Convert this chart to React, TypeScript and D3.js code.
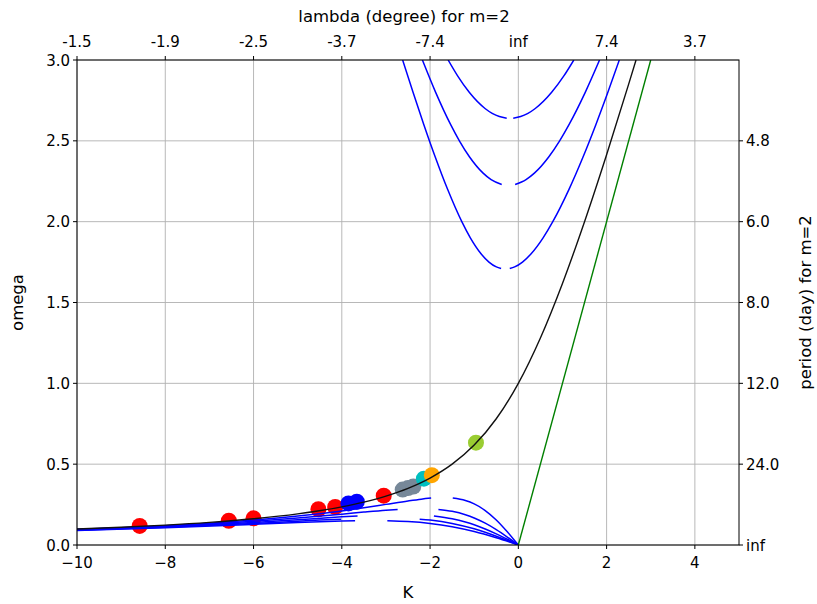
import React from "react";
import * as d3 from "d3";

// ---- data (K, omega) ----
const xTicks = [-10, -8, -6, -4, -2, 0, 2, 4];
const topTickLabels = ["-1.5", "-1.9", "-2.5", "-3.7", "-7.4", "inf", "7.4", "3.7"];
const yTicks = [0, 0.5, 1.0, 1.5, 2.0, 2.5, 3.0];
const rightTicks = [0, 0.5, 1.0, 1.5, 2.0, 2.5];
const rightTickLabels = ["inf", "24.0", "12.0", "8.0", "6.0", "4.8"];

const blackCurve: [number, number][] = [
  [-10, 0.099], [-9, 0.1099], [-8, 0.1231], [-7, 0.1401], [-6, 0.1623], [-5, 0.1926],
  [-4, 0.2361], [-3.5, 0.2656], [-3, 0.3028], [-2.5, 0.3508], [-2, 0.4142], [-1.5, 0.5],
  [-1, 0.618], [-0.5, 0.7808], [0, 1.0], [0.5, 1.2808], [1, 1.618], [1.5, 2.0],
  [2, 2.4142], [2.5, 2.8508], [2.667, 3.0],
];

const greenLine: [number, number][] = [[0, 0], [3, 3]];

const gravity1Left: [number, number][] = [
  [-2.6218, 3.0], [-2.3858, 2.8], [-2.1409, 2.6], [-1.8827, 2.4], [-1.6027, 2.2], [-1.2808, 2.0],
  [-1.0873, 1.9], [-0.8409, 1.8], [-0.6654, 1.75], [-0.4979, 1.72], [-0.3904, 1.71],
];
const gravity1Right: [number, number][] = [
  [-0.1944, 1.71], [-0.0836, 1.72], [0.094, 1.75], [0.2854, 1.8], [0.561, 1.9], [0.7808, 2.0],
  [1.1481, 2.2], [1.466, 2.4], [1.7563, 2.6], [2.0287, 2.8], [2.2885, 3.0],
];
const gravity2Left: [number, number][] = [
  [-2.1736, 3.0], [-1.8733, 2.8], [-1.5328, 2.6], [-1.3358, 2.5], [-1.1047, 2.4], [-0.7981, 2.3],
  [-0.6169, 2.26], [-0.3765, 2.23],
];
const gravity2Right: [number, number][] = [
  [-0.072, 2.23], [0.1744, 2.26], [0.3634, 2.3], [0.688, 2.4], [0.9358, 2.5], [1.1482, 2.6],
  [1.5161, 2.8], [1.8403, 3.0],
];
const gravity3Left: [number, number][] = [
  [-1.5907, 3.0], [-1.3723, 2.9], [-1.1123, 2.8], [-0.7547, 2.7], [-0.5922, 2.67], [-0.4297, 2.65],
  [-0.2634, 2.64],
];
const gravity3Right: [number, number][] = [
  [-0.1154, 2.64], [0.0524, 2.65], [0.2177, 2.67], [0.3843, 2.7], [0.7552, 2.8], [1.0275, 2.9],
  [1.2574, 3.0],
];

const rossby1Left: [number, number][] = [
  [-10, 0.0971], [-9, 0.1071], [-8, 0.1194], [-7, 0.1346], [-6, 0.1539], [-5, 0.1788],
  [-4, 0.211], [-3.5, 0.2303], [-3, 0.2513], [-2.5, 0.2724], [-2.2, 0.2835], [-1.9755, 0.29],
];
const rossby1Right: [number, number][] = [
  [-1.4859, 0.29], [-1.2, 0.2748], [-1, 0.254], [-0.75, 0.2132], [-0.5, 0.155], [-0.25, 0.0818], [0, 0],
];
const rossby2Left: [number, number][] = [
  [-10, 0.0952], [-8, 0.1159], [-6, 0.1464], [-5, 0.1668], [-4, 0.1908], [-3.5, 0.2034],
  [-3, 0.215], [-2.7348, 0.22],
];
const rossby2Right: [number, number][] = [
  [-1.8107, 0.22], [-1.5, 0.2081], [-1.2, 0.1873], [-1, 0.1674], [-0.75, 0.1351], [-0.5, 0.0954],
  [-0.25, 0.0494], [0, 0],
];
const rossby3Left: [number, number][] = [
  [-10, 0.0935], [-8, 0.1127], [-6, 0.1396], [-5, 0.1564], [-4, 0.1741], [-3.6428, 0.18],
];
const rossby3Right: [number, number][] = [
  [-1.9128, 0.18], [-1.5, 0.1625], [-1.2, 0.1424], [-1, 0.1252], [-0.75, 0.0992], [-0.5, 0.069],
  [-0.25, 0.0354], [0, 0],
];
const rossby4Left: [number, number][] = [
  [-10, 0.0917], [-8, 0.1096], [-6, 0.1334], [-5, 0.1472], [-4.5, 0.154], [-4.0144, 0.16],
];
const rossby4Right: [number, number][] = [
  [-2.2356, 0.16], [-2, 0.1541], [-1.5, 0.1335], [-1, 0.1001], [-0.5, 0.0541], [-0.25, 0.0276], [0, 0],
];
const rossby5Left: [number, number][] = [
  [-10, 0.0901], [-8, 0.1067], [-6, 0.1277], [-5, 0.139], [-4.5, 0.1441], [-4, 0.1483], [-3.699, 0.15],
];
const rossby5Right: [number, number][] = [
  [-2.968, 0.15], [-2.5, 0.1451], [-2, 0.1335], [-1.5, 0.1133], [-1, 0.0834], [-0.5, 0.0444], [0, 0],
];

const blueCurves = [
  gravity1Left, gravity1Right, gravity2Left, gravity2Right, gravity3Left, gravity3Right,
  rossby1Left, rossby1Right, rossby2Left, rossby2Right, rossby3Left, rossby3Right,
  rossby4Left, rossby4Right, rossby5Left, rossby5Right,
];

const dotK = [-8.58, -6.56, -6.0, -4.53, -4.15, -3.05, -3.85, -3.66, -2.62, -2.5, -2.38, -2.14, -1.96, -0.96];
const dotOmega = [0.118, 0.15, 0.165, 0.221, 0.235, 0.305, 0.257, 0.268, 0.343, 0.352, 0.362, 0.41, 0.432, 0.633];
const dotColor = ["red", "red", "red", "red", "red", "red", "blue", "blue",
  "#778899", "#778899", "#778899", "#00bfbf", "orange", "yellowgreen"];

// ---- layout ----
const W = 817, H = 604;
const L = 77, R = 739, T = 60, B = 545;
const FONT = "DejaVu Sans, sans-serif";
const FS = 15;
const LFS = 16.5;

export default function App() {
  const x = d3.scaleLinear().domain([-10, 5]).range([L, R]);
  const y = d3.scaleLinear().domain([0, 3]).range([B, T]);
  const line = d3.line<[number, number]>().x(d => x(d[0])).y(d => y(d[1])).curve(d3.curveMonotoneX);
  const straight = d3.line<[number, number]>().x(d => x(d[0])).y(d => y(d[1]));
  const fmtMinus = (v: number) => (v < 0 ? "\u2212" + Math.abs(v) : String(v));

  return (
    <svg width={W} height={H} style={{ position: "absolute", left: 0, top: 0, background: "white" }}
      fontFamily={FONT} fontSize={FS}>
      <defs>
        <clipPath id="plotclip"><rect x={L} y={T} width={R - L} height={B - T} /></clipPath>
      </defs>
      <rect x={0} y={0} width={W} height={H} fill="white" />
      {/* grid */}
      <g stroke="#b0b0b0" strokeWidth={0.9}>
        {xTicks.map(t => <line key={"gx" + t} x1={x(t)} x2={x(t)} y1={T} y2={B} />)}
        {yTicks.map(t => <line key={"gy" + t} x1={L} x2={R} y1={y(t)} y2={y(t)} />)}
      </g>
      <g clipPath="url(#plotclip)">
        {dotK.map((k, i) => (
          <circle key={"d" + i} cx={x(k)} cy={y(dotOmega[i])} r={8} fill={dotColor[i]} />
        ))}
        {blueCurves.map((c, i) => (
          <path key={"b" + i} d={line(c) || ""} fill="none" stroke="#0000ff" strokeWidth={1.5} />
        ))}
        <path d={line(blackCurve) || ""} fill="none" stroke="#111" strokeWidth={1.4} />
        <path d={straight(greenLine) || ""} fill="none" stroke="#008000" strokeWidth={1.4} />
      </g>
      {/* frame */}
      <rect x={L} y={T} width={R - L} height={B - T} fill="none" stroke="black" strokeWidth={1} />
      {/* bottom axis */}
      <g>
        {xTicks.map(t => (
          <g key={"bx" + t}>
            <line x1={x(t)} x2={x(t)} y1={B} y2={B + 4} stroke="black" />
            <text x={x(t)} y={B + 23} textAnchor="middle">{fmtMinus(t)}</text>
          </g>
        ))}
        <text x={(L + R) / 2} y={598} textAnchor="middle" fontSize={LFS}>K</text>
      </g>
      {/* top axis */}
      <g>
        {xTicks.map((t, i) => (
          <g key={"tx" + t}>
            <line x1={x(t)} x2={x(t)} y1={T} y2={T - 4} stroke="black" />
            <text x={x(t)} y={T - 13} textAnchor="middle">{topTickLabels[i]}</text>
          </g>
        ))}
        <text x={(L + R) / 2 - 4} y={22} textAnchor="middle" fontSize={LFS}>lambda (degree) for m=2</text>
      </g>
      {/* left axis */}
      <g>
        {yTicks.map(t => (
          <g key={"ly" + t}>
            <line x1={L} x2={L - 4} y1={y(t)} y2={y(t)} stroke="black" />
            <text x={L - 7} y={y(t) + 5.5} textAnchor="end">{t.toFixed(1)}</text>
          </g>
        ))}
        <text transform={`translate(23,${(T + B) / 2}) rotate(-90)`} textAnchor="middle" fontSize={LFS}>omega</text>
      </g>
      {/* right axis */}
      <g>
        {rightTicks.map((t, i) => (
          <g key={"ry" + t}>
            <line x1={R} x2={R + 4} y1={y(t)} y2={y(t)} stroke="black" />
            <text x={R + 7} y={y(t) + 5.5} textAnchor="start">{rightTickLabels[i]}</text>
          </g>
        ))}
        <text transform={`translate(811,${(T + B) / 2}) rotate(-90)`} textAnchor="middle" fontSize={LFS}>period (day) for m=2</text>
      </g>
    </svg>
  );
}
